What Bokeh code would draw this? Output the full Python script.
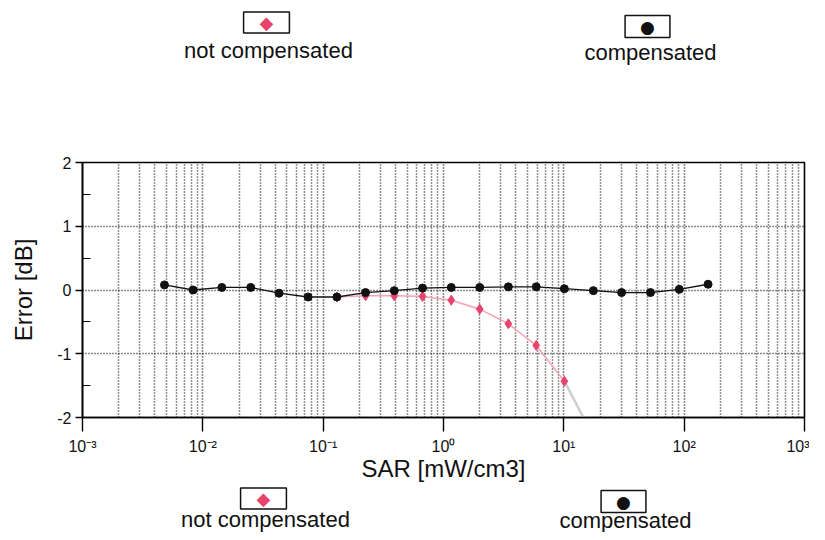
from bokeh.plotting import figure
from bokeh.models import Range1d, FixedTicker, Label
from bokeh.layouts import column
from bokeh.embed import file_html
from bokeh.resources import INLINE

# ---------------- data ----------------
sar = [0.0048, 0.0083, 0.0144, 0.025, 0.043, 0.075, 0.13, 0.225, 0.39, 0.67,
       1.16, 2.0, 3.46, 5.9, 10.1, 17.6, 30.2, 52.5, 91.0, 158.0]
err_compensated = [0.08, 0.00, 0.04, 0.04, -0.05, -0.11, -0.11, -0.04, -0.01, 0.03,
                   0.04, 0.04, 0.05, 0.05, 0.02, -0.01, -0.04, -0.04, 0.01, 0.09]

sar_not_comp = [0.13, 0.225, 0.39, 0.67, 1.16, 2.0, 3.46, 5.9, 10.1]
err_not_comp = [-0.11, -0.09, -0.09, -0.10, -0.16, -0.30, -0.53, -0.87, -1.43]
# faded trend continuation of the not-compensated curve (leaves the plot)
sar_trend = [10.1, 17.6]
err_trend = [-1.43, -2.3]

x_ticks = [1e-3, 1e-2, 1e-1, 1e0, 1e1, 1e2, 1e3]
x_tick_labels = ["10\u207b\u00b3", "10\u207b\u00b2", "10\u207b\u00b9", "10\u2070",
                 "10\u00b9", "10\u00b2", "10\u00b3"]
y_ticks = [-2, -1, 0, 1, 2]
y_tick_labels = ["-2", "-1", "0", "1", "2"]
y_minor = [-1.5, -0.5, 0.5, 1.5]
x_label = "SAR [mW/cm3]"
y_label = "Error [dB]"
legend_labels = ["not compensated", "compensated"]

FONT = "Liberation Sans"
W = 809
H_TOP, H_MAIN, H_BOT = 72, 412, 48
FRAME_L, FRAME_R = 82, 804

# ---------------- main figure ----------------
p = figure(width=W, height=H_MAIN, x_axis_type="log",
           x_range=Range1d(1e-3, 1e3), y_range=Range1d(-2, 2),
           output_backend="svg", toolbar_location=None,
           min_border_left=FRAME_L, min_border_right=W - FRAME_R,
           min_border_top=90, min_border_bottom=65)
p.background_fill_color = "white"
p.border_fill_color = "white"
p.outline_line_color = "black"
p.outline_line_width = 1.6

minor_x = [k * 10.0 ** n for n in range(-3, 3) for k in range(2, 10)]
p.xaxis.ticker = FixedTicker(ticks=x_ticks, minor_ticks=minor_x)
p.xaxis.major_label_overrides = {t: l for t, l in zip(x_ticks, x_tick_labels)}
p.yaxis.ticker = FixedTicker(ticks=y_ticks, minor_ticks=y_minor)
p.yaxis.major_label_overrides = {t: l for t, l in zip(y_ticks, y_tick_labels)}

for ax in (p.xaxis[0], p.yaxis[0]):
    ax.axis_line_color = "black"
    ax.axis_line_width = 1.6
    ax.major_tick_line_color = "black"
    ax.major_tick_line_width = 1.4
    ax.minor_tick_line_color = "black"
    ax.minor_tick_line_width = 1.2
    ax.major_tick_in = 0
    ax.major_label_text_font = FONT
    ax.major_label_text_font_size = "16px"
    ax.major_label_text_color = "#111111"
    ax.axis_label_text_font = FONT
    ax.axis_label_text_font_size = "24px"
    ax.axis_label_text_font_style = "normal"
    ax.axis_label_text_color = "#111111"

p.xaxis.axis_label = x_label
p.xaxis.major_tick_out = 14
p.xaxis.minor_tick_in = 0
p.xaxis.minor_tick_out = 0
p.xaxis.major_label_standoff = 6
p.xaxis.axis_label_standoff = -3

p.yaxis.axis_label = y_label
p.yaxis.major_tick_out = 7
p.yaxis.minor_tick_in = 8
p.yaxis.minor_tick_out = 0
p.yaxis.major_label_standoff = 4
p.yaxis.axis_label_standoff = 17

grid_col = "#000000"
p.xgrid.grid_line_color = grid_col
p.xgrid.grid_line_dash = "1 2"
p.xgrid.grid_line_width = 1.6
p.xgrid.grid_line_alpha = 0.9
p.xgrid.minor_grid_line_color = grid_col
p.xgrid.minor_grid_line_dash = "1 2"
p.xgrid.minor_grid_line_width = 1.5
p.xgrid.minor_grid_line_alpha = 0.85
p.ygrid.grid_line_color = grid_col
p.ygrid.grid_line_dash = "1 2"
p.ygrid.grid_line_width = 1.6
p.ygrid.grid_line_alpha = 0.9

# ---------------- series ----------------
p.line(sar_trend, err_trend, line_color="#cfcfcf", line_width=2.5)
p.line(sar_not_comp, err_not_comp, line_color="#f2a7b8", line_width=1.6)
p.scatter(sar_not_comp, err_not_comp, marker="diamond", size=10,
          fill_color="#e8436a", line_color="#e8436a")

p.line(sar, err_compensated, line_color="#111111", line_width=1.3)
p.scatter(sar, err_compensated, marker="circle", size=8,
          fill_color="#111111", line_color="#111111")

# ---------------- legend strips ----------------
# strip frames are aligned with the main frame, so x data == page pixel
def strip(h):
    f = figure(width=W, height=h, x_range=Range1d(FRAME_L, FRAME_R),
               y_range=Range1d(h, 0),
               output_backend="svg", toolbar_location=None,
               x_axis_location=None, y_axis_location=None,
               min_border_left=FRAME_L, min_border_right=W - FRAME_R,
               min_border_top=0, min_border_bottom=0)
    f.outline_line_color = None
    f.xgrid.visible = False
    f.ygrid.visible = False
    f.background_fill_color = "white"
    f.border_fill_color = "white"
    return f

def box(f, x, y, sym, col, size, pad_lr, pad_tb):
    f.add_layout(Label(x=x, y=y, text=sym, text_align="center",
                       text_baseline="middle", text_color=col,
                       text_font_size=size, text_font="DejaVu Sans",
                       border_line_color="#111111", border_line_width=1.5,
                       background_fill_color="white",
                       padding=dict(left=pad_lr, right=pad_lr,
                                    top=pad_tb, bottom=pad_tb)))

def txt(f, x, y, s):
    f.add_layout(Label(x=x, y=y, text=s, text_align="center",
                       text_baseline="middle", text_color="#111111",
                       text_font=FONT, text_font_size="22px"))

top = strip(H_TOP)
box(top, 266, 22, "\u25c6", "#e8436a", "18px", 16, 0)
txt(top, 268, 50, legend_labels[0])
box(top, 647, 26, "\u25cf", "#111111", "17px", 15, 1)
txt(top, 650, 52, legend_labels[1])

bot = strip(H_BOT)      # starts at page y = H_TOP + H_MAIN
y0 = H_TOP + H_MAIN
box(bot, 263, 498 - y0, "\u25c6", "#e8436a", "18px", 16, 0)
txt(bot, 265, 519 - y0, legend_labels[0])
box(bot, 623, 501 - y0, "\u25cf", "#111111", "17px", 15, 1)
txt(bot, 625, 520 - y0, legend_labels[1])

layout = column(top, p, bot, spacing=0)
open("out.html", "w").write(file_html(layout, INLINE))
